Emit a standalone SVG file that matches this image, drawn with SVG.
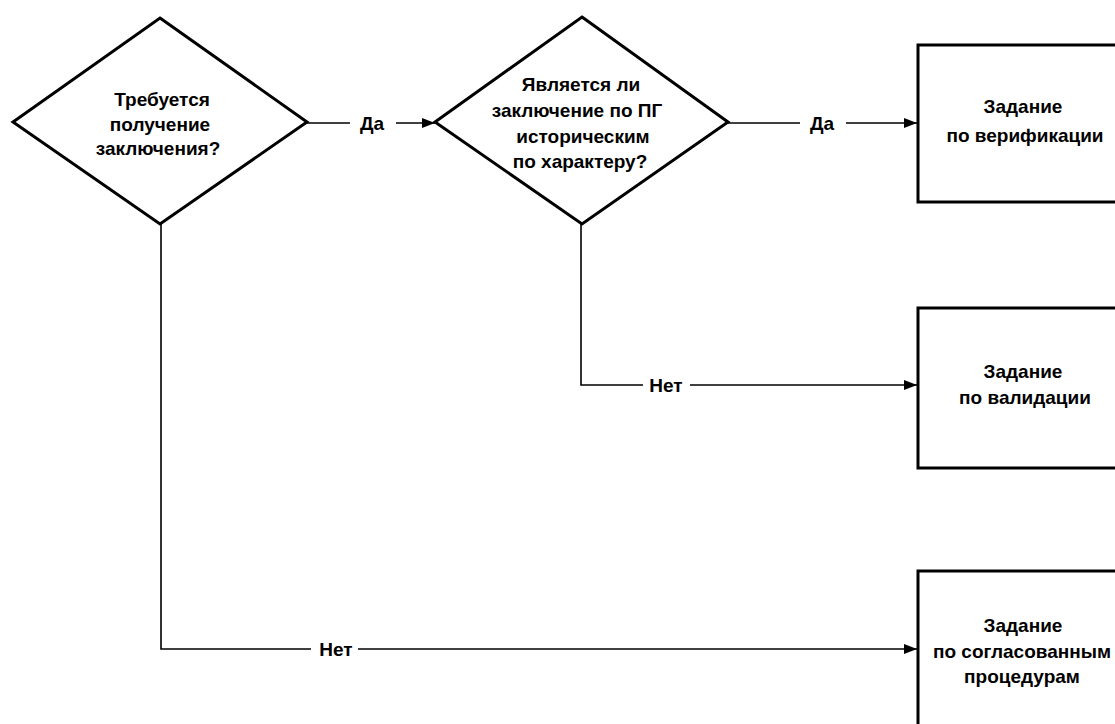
<svg xmlns="http://www.w3.org/2000/svg" width="1115" height="724" viewBox="0 0 1115 724">
<style>
.shape{fill:#fff;stroke:#000;stroke-width:3}
.line{fill:none;stroke:#000;stroke-width:1.6}
.t{font-family:"Liberation Sans",Arial,sans-serif;font-size:19px;font-weight:bold;text-anchor:middle;fill:#000}
.lbl{font-family:"Liberation Sans",Arial,sans-serif;font-size:19px;font-weight:bold;text-anchor:middle;fill:#000}
</style>
<defs>
<marker id="arr" markerWidth="13" markerHeight="10" refX="13" refY="5" orient="auto" markerUnits="userSpaceOnUse">
<path d="M0,0 L13,5 L0,10 Z" fill="#000"/>
</marker>
</defs>
<rect width="1115" height="724" fill="#fff"/>
<g id="connectors">
<line class="line" x1="307" y1="123" x2="350" y2="123"/>
<line class="line" x1="396" y1="123" x2="435" y2="123" marker-end="url(#arr)"/>
<text class="lbl" x="372" y="130">Да</text>
<line class="line" x1="728" y1="123" x2="800" y2="123"/>
<line class="line" x1="846" y1="123" x2="917" y2="123" marker-end="url(#arr)"/>
<text class="lbl" x="822" y="130">Да</text>
<polyline class="line" points="581,224 581,385 643,385"/>
<line class="line" x1="690" y1="385" x2="917" y2="385" marker-end="url(#arr)"/>
<text class="lbl" x="666" y="392">Нет</text>
<polyline class="line" points="161,224 161,649 311,649"/>
<line class="line" x1="358" y1="649" x2="917" y2="649" marker-end="url(#arr)"/>
<text class="lbl" x="336" y="656">Нет</text>
</g>
<g id="d1">
<polygon class="shape" points="160,18 307,122 160,224 13,122"/>
<text class="t" x="162" y="106">Требуется</text>
<text class="t" x="160" y="131">получение</text>
<text class="t" x="158" y="155">заключения?</text>
</g>
<g id="d2">
<polygon class="shape" points="582,17 728,122 582,224 435,122"/>
<text class="t" x="581" y="91">Является ли</text>
<text class="t" x="577" y="117">заключение по ПГ</text>
<text class="t" x="583" y="143">историческим</text>
<text class="t" x="580" y="168">по характеру?</text>
</g>
<g id="b1">
<rect class="shape" x="918" y="45" width="210" height="157"/>
<text class="t" x="1023" y="113">Задание</text>
<text class="t" x="1025" y="142">по верификации</text>
</g>
<g id="b2">
<rect class="shape" x="918" y="308" width="210" height="160"/>
<text class="t" x="1023" y="378">Задание</text>
<text class="t" x="1025" y="404">по валидации</text>
</g>
<g id="b3">
<rect class="shape" x="918" y="571" width="210" height="170"/>
<text class="t" x="1023" y="632">Задание</text>
<text class="t" x="1022" y="658">по согласованным</text>
<text class="t" x="1022" y="683">процедурам</text>
</g>
</svg>
